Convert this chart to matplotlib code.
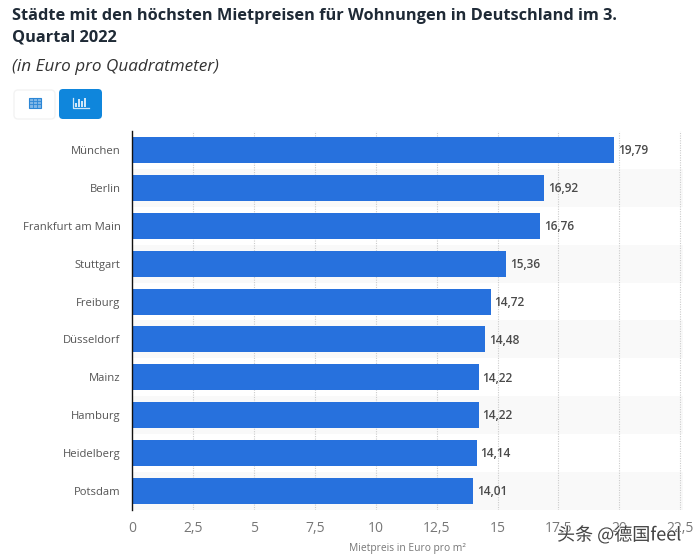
import matplotlib
matplotlib.use("Agg")
import matplotlib.pyplot as plt
from matplotlib.patches import FancyBboxPatch, Rectangle
import matplotlib.patheffects as pe

WIDTH = 697
HEIGHT = 558
DPI = 100
BAR_COLOR = "#2771dd"
BUTTON_COLOR = "#0f86dc"
GRID_COLOR = "#cccccc"
STRIPE_COLOR = "#f9f9f9"

cities = ["München", "Berlin", "Frankfurt am Main", "Stuttgart", "Freiburg",
          "Düsseldorf", "Mainz", "Hamburg", "Heidelberg", "Potsdam"]
prices = [19.79, 16.92, 16.76, 15.36, 14.72, 14.48, 14.22, 14.22, 14.14, 14.01]
x_ticks = [0, 2.5, 5, 7.5, 10, 12.5, 15, 17.5, 20, 22.5]
x_labels = ["0", "2,5", "5", "7,5", "10", "12,5", "15", "17,5", "20", "22,5"]

plt.rcParams["font.family"] = ["Open Sans", "DejaVu Sans"]

fig = plt.figure(figsize=(WIDTH / DPI, HEIGHT / DPI), dpi=DPI)


def px_box(left, top, right, bottom):
    return [left / WIDTH, 1 - bottom / HEIGHT, (right - left) / WIDTH, (bottom - top) / HEIGHT]


ax = fig.add_axes(px_box(132, 131, 683, 510))
ax.set_xlim(0, 551 / 24.37)
ax.set_ylim(len(cities) - 0.5, -0.5)

# every second row has a light background
for i in range(1, len(cities), 2):
    ax.axhspan(i - 0.5, i + 0.5, color=STRIPE_COLOR, zorder=0, lw=0)

for t in x_ticks[1:]:
    ax.axvline(t, color=GRID_COLOR, lw=0.8, ls=(0, (1, 1.2)), zorder=1)

ax.barh(range(len(cities)), prices, height=0.685, color=BAR_COLOR, zorder=2)

for i, p in enumerate(prices):
    label = f"{p:.2f}".replace(".", ",")
    ax.annotate(label, (p, i), xytext=(2.8, -0.5), textcoords="offset points", va="center",
                ha="left", fontsize=8.6, color="#4a4a4a", fontweight="semibold", zorder=3)

ax.set_yticks(range(len(cities)))
ax.set_yticklabels(cities, fontsize=8.1, color="#555555")
ax.set_xticks(x_ticks)
ax.set_xticklabels(x_labels, fontsize=10, color="#777777")
ax.tick_params(axis="both", length=0)
ax.tick_params(axis="y", pad=8.2)
ax.tick_params(axis="x", pad=8)
for side in ["top", "right", "bottom"]:
    ax.spines[side].set_visible(False)
ax.spines["left"].set_color("#111111")
ax.spines["left"].set_linewidth(1)
ax.patch.set_alpha(0)

fig.text(407 / WIDTH, 1 - 548 / HEIGHT, "Mietpreis in Euro pro m²", fontsize=7.4, color="#777777",
         ha="center", va="center")

# title block
fig.text(12 / WIDTH, 1 - 15.5 / HEIGHT, "Städte mit den höchsten Mietpreisen für Wohnungen in Deutschland im 3.",
         fontsize=11.75, fontweight="bold", color="#1f2a36", va="center")
fig.text(12 / WIDTH, 1 - 38 / HEIGHT, "Quartal 2022", fontsize=11.75, fontweight="bold",
         color="#1f2a36", va="center")
fig.text(12 / WIDTH, 1 - 67 / HEIGHT, "(in Euro pro Quadratmeter)", fontsize=12.3, style="italic",
         color="#333333", va="center")

# overlay in pixel coordinates for the two buttons
ui = fig.add_axes([0, 0, 1, 1])
ui.set_xlim(0, WIDTH)
ui.set_ylim(HEIGHT, 0)
ui.axis("off")
ui.patch.set_alpha(0)

ui.add_patch(FancyBboxPatch((14, 90), 41, 29, boxstyle="round,pad=0,rounding_size=4",
                            fc="white", ec="#f3f3f3", lw=1))
ui.add_patch(FancyBboxPatch((59, 89), 43, 30, boxstyle="round,pad=0,rounding_size=4",
                            fc=BUTTON_COLOR, ec="none"))

# table icon
ui.add_patch(Rectangle((28.5, 97.5), 12, 10, fc="#7fb6e6", ec="#2b86d6", lw=0.8))
for gx in [32.5, 36.5]:
    ui.plot([gx, gx], [97.5, 107.5], color="#2b86d6", lw=0.6)
for gy in [100.5, 104]:
    ui.plot([28.5, 40.5], [gy, gy], color="#2b86d6", lw=0.6)

# bar chart icon
ui.plot([72.5, 72.5, 88.5], [97.5, 108, 108], color="#cfe6f8", lw=0.9)
icon_x = [75, 78, 81, 84]
icon_h = [4, 8, 6, 9]
for ix, ih in zip(icon_x, icon_h):
    ui.add_patch(Rectangle((ix, 107 - ih), 2.2, ih, fc="#cfe6f8", ec="none"))

# watermark over the axis labels
ui.text(557, 535, "头条 @德国feel", fontsize=13, color="#444444", va="center", ha="left",
        family=["Noto Sans CJK SC", "DejaVu Sans"],
        path_effects=[pe.withStroke(linewidth=0.8, foreground="white")])

fig.savefig("out.png", dpi=DPI)
plt.close()
